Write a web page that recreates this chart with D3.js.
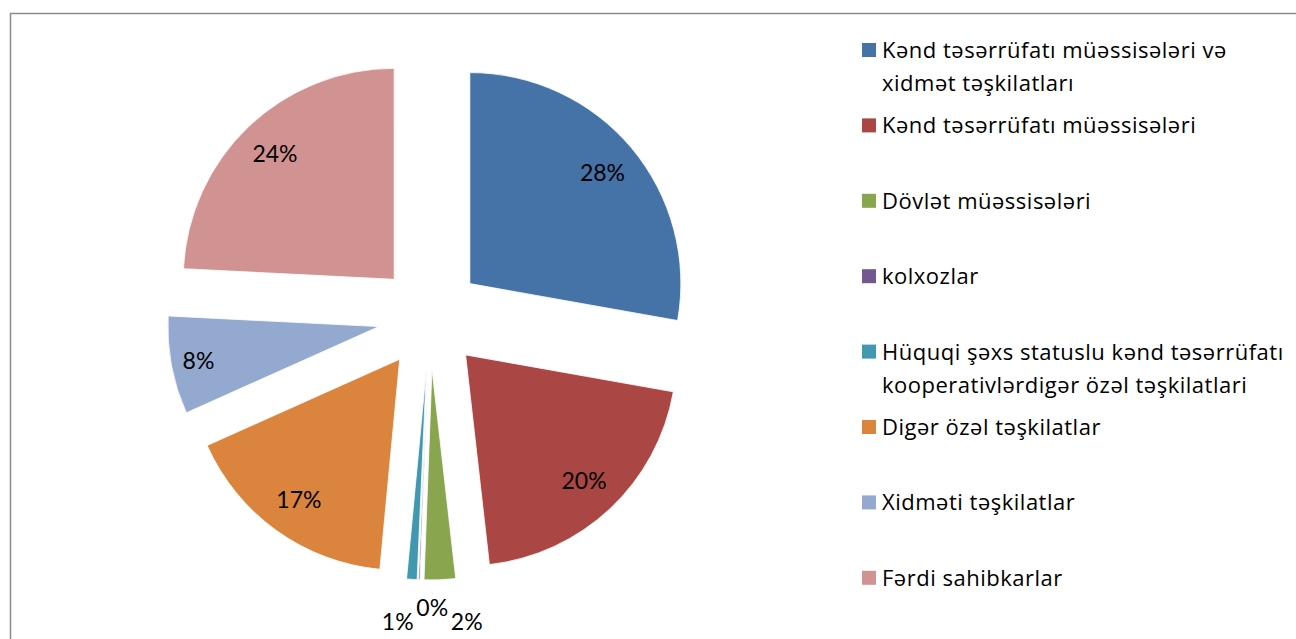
<!DOCTYPE html>
<html>
<head>
<meta charset="utf-8">
<script src="https://cdn.jsdelivr.net/npm/d3@7"></script>
<style>
  html, body { margin: 0; padding: 0; background: #fff; }
  svg { display: block; font-family: Lato, "Open Sans", sans-serif; }
</style>
</head>
<body>
<svg id="chart" width="1296" height="639"></svg>
<script>
// legend entries (pre-split where Excel wrapped them)
var categories = [
  ["Kənd təsərrüfatı müəssisələri və", "xidmət təşkilatları"],
  ["Kənd təsərrüfatı müəssisələri"],
  ["Dövlət müəssisələri"],
  ["kolxozlar"],
  ["Hüquqi şəxs statuslu kənd təsərrüfatı", "kooperativlərdigər özəl təşkilatlari"],
  ["Digər özəl təşkilatlar"],
  ["Xidməti təşkilatlar"],
  ["Fərdi sahibkarlar"]
];
var shares = [27.8, 20.4, 2.4, 0.1, 0.8, 16.8, 7.5, 24.2];
var colors = ["#4572A7", "#AA4643", "#89A54E", "#71588F", "#4198AF", "#DB843D", "#93A9CF", "#D19392"];

var svg = d3.select("#chart"),
  cx = 430,
  cy = 317,
  radius = 211,
  explode = 52;

// chart area border (right/bottom run off the picture)
svg.append("rect")
  .attr("x", 10.5).attr("y", 13.5)
  .attr("width", 1320).attr("height", 700)
  .attr("fill", "#fff")
  .attr("stroke", "#8c8c8c")
  .attr("stroke-width", 1.5);

var pie = d3.pie().sort(null).value(function(d) { return d; });
var arc = d3.arc().innerRadius(0).outerRadius(radius);
var arcs = pie(shares);

function mid(d) { return (d.startAngle + d.endAngle) / 2; }

var g = svg.append("g").attr("transform", "translate(" + cx + "," + cy + ")");

g.selectAll("path.slice")
  .data(arcs)
  .enter().append("path")
  .attr("class", "slice")
  .attr("transform", function(d) {
    var a = mid(d);
    return "translate(" + (explode * Math.sin(a)) + "," + (-explode * Math.cos(a)) + ")";
  })
  .attr("d", arc)
  .attr("fill", function(d, i) { return colors[i]; })
  .attr("stroke", "#fff")
  .attr("stroke-width", 0.8);

// labels: big slices inside, tiny ones outside
var labelSize = 23;
var labels = arcs.map(function(d, i) {
  var a = mid(d),
    pct = Math.round(d.value) + "%";
  if (d.value >= 3) {
    var dist = explode + radius * (d.value < 10 ? 0.87 : 0.82);
    return { text: pct, x: dist * Math.sin(a), y: -dist * Math.cos(a), inside: true };
  }
  var dOut = explode + radius + 42;
  return { text: pct, x: dOut * Math.sin(a), y: -dOut * Math.cos(a), inside: false };
});

// spread the outside cluster so the labels don't collide
var outs = labels.filter(function(l) { return !l.inside; })
  .sort(function(a, b) { return a.x - b.x; });
var gap = 34.5;
var centre = (outs[0].x + outs[outs.length - 1].x) / 2 + 7;
outs.forEach(function(l, i) {
  l.x = centre + (i - (outs.length - 1) / 2) * gap;
  if (i % 2 == 1) l.y -= 14;
});

g.selectAll("text.lbl")
  .data(labels)
  .enter().append("text")
  .attr("class", "lbl")
  .attr("x", function(d) { return d.x; })
  .attr("y", function(d) { return d.y; })
  .attr("dy", "0.36em")
  .attr("text-anchor", "middle")
  .attr("font-size", labelSize)
  .attr("fill", "#000")
  .text(function(d) { return d.text; });

// legend
var legendY = d3.scaleLinear().domain([0, categories.length - 1]).range([50, 577.8]);
var legend = svg.append("g")
  .selectAll("g")
  .data(categories)
  .enter().append("g")
  .attr("transform", function(d, i) { return "translate(862," + legendY(i) + ")"; });

legend.append("rect")
  .attr("x", 0).attr("y", -7)
  .attr("width", 14).attr("height", 14)
  .attr("fill", function(d, i) { return colors[i]; });

legend.append("text")
  .attr("font-family", "'Open Sans', sans-serif")
  .attr("font-size", 22)
  .attr("letter-spacing", 0.5)
  .attr("fill", "#000")
  .selectAll("tspan")
  .data(function(d) { return d; })
  .enter().append("tspan")
  .attr("x", 20)
  .attr("y", function(d, i) { return i * 33; })
  .attr("dy", "0.36em")
  .text(function(d) { return d; });
</script>
</body>
</html>
